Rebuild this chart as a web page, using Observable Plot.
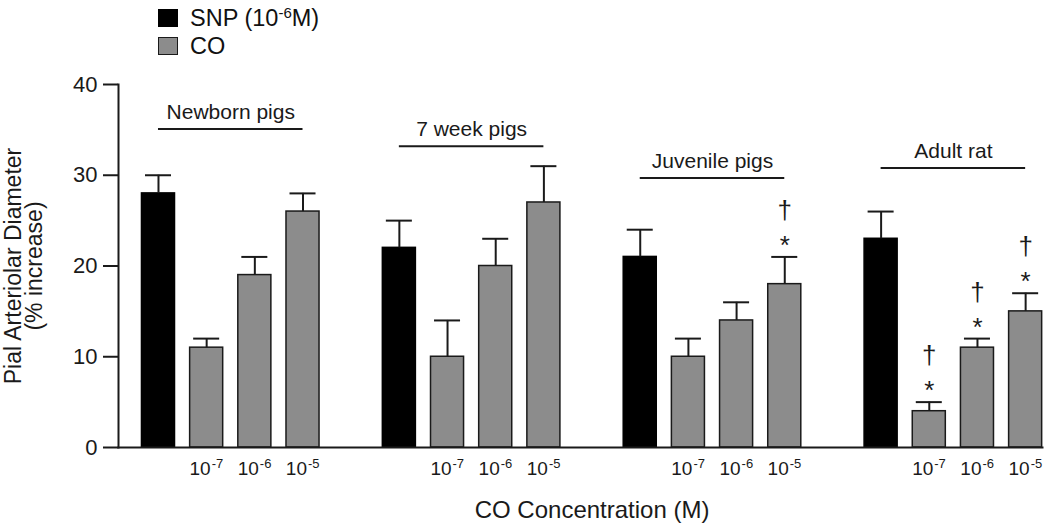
<!DOCTYPE html>
<html><head><meta charset="utf-8">
<script src="https://cdn.jsdelivr.net/npm/d3@7"></script>
<script src="https://cdn.jsdelivr.net/npm/@observablehq/plot@0.6"></script>
<style>
body{margin:0;background:#fff;font-family:"Liberation Sans",Arial,sans-serif;}
#wrap{position:relative;width:1050px;height:527px;overflow:hidden;}
#legend{position:absolute;left:158px;top:4px;font-size:23.5px;color:#111;}
.item{display:flex;align-items:center;height:28px;white-space:nowrap;}
.sw{width:20px;height:18px;margin-right:12px;box-sizing:border-box;}
.sup{font-size:15px;position:relative;top:-8px;}
</style></head><body>
<div id="wrap"><div id="chart"></div>
<div id="legend">
  <div class="item"><div class="sw" style="background:#000"></div><span>SNP (10<span class="sup">-6</span>M)</span></div>
  <div class="item"><div class="sw" style="background:#8c8c8c;border:1.5px solid #1a1a1a"></div><span>CO</span></div>
</div></div>
<script>
const groups = ["Newborn pigs", "7 week pigs", "Juvenile pigs", "Adult rat"];
const treatments = ["SNP", "CO", "CO", "CO"];
const coExponents = ["", "-7", "-6", "-5"];
const newbornMean = [28, 11, 19, 26];
const newbornErr = [2, 1, 2, 2];
const weekMean = [22, 10, 20, 27];
const weekErr = [3, 4, 3, 4];
const juvenileMean = [21, 10, 14, 18];
const juvenileErr = [3, 2, 2, 3];
const adultMean = [23, 4, 11, 15];
const adultErr = [3, 1, 1, 2];
const juvenileSig = [false, false, false, true];
const adultSig = [false, true, true, true];
const newbornSig = [false, false, false, false];
const weekSig = [false, false, false, false];
const bracketLevel = [35.1, 33.2, 29.7, 30.8];
const yTicks = [0, 10, 20, 30, 40];

const means = [newbornMean, weekMean, juvenileMean, adultMean];
const errs = [newbornErr, weekErr, juvenileErr, adultErr];
const sigs = [newbornSig, weekSig, juvenileSig, adultSig];
const perGroup = treatments.length + 1;

const rows = [];
groups.forEach((g, gi) => treatments.forEach((t, ci) => rows.push({
  group: g, treatment: t, exp: coExponents[ci], slot: gi * perGroup + ci,
  mean: means[gi][ci], top: means[gi][ci] + errs[gi][ci], sig: sigs[gi][ci]
})));
const coRows = rows.filter(d => d.treatment === "CO");
const sigRows = rows.filter(d => d.sig);
const brackets = groups.map((g, gi) => ({
  group: g, x1: gi * perGroup, x2: gi * perGroup + treatments.length - 1,
  mid: gi * perGroup + (treatments.length - 1) / 2, level: bracketLevel[gi]
}));
const lastSlot = d3.max(rows, d => d.slot);
const hw = 0.343, cw = 0.27;
const ink = "#1a1a1a";

const chart = Plot.plot({
  width: 1050, height: 527,
  marginTop: 84, marginBottom: 80, marginLeft: 118, marginRight: 8,
  style: {fontFamily: "'Liberation Sans', Arial, sans-serif", color: ink, background: "transparent"},
  x: {domain: [-0.83, lastSlot + 0.35], axis: null},
  y: {domain: [0, 40], axis: null},
  marks: [
    Plot.rectY(rows, {x1: d => d.slot - hw, x2: d => d.slot + hw, y1: 0, y2: "mean",
      fill: d => d.treatment === "SNP" ? "#000" : "#8c8c8c",
      stroke: d => d.treatment === "SNP" ? "#000" : ink, strokeWidth: 1.5}),
    Plot.ruleX(rows, {x: "slot", y1: "mean", y2: "top", stroke: ink, strokeWidth: 2}),
    Plot.ruleY(rows, {x1: d => d.slot - cw, x2: d => d.slot + cw, y: "top", stroke: ink, strokeWidth: 2}),
    Plot.text(sigRows, {x: "slot", y: "top", text: () => "*", lineAnchor: "bottom", dy: -3, fontSize: 26, fill: ink}),
    Plot.text(sigRows, {x: "slot", y: "top", text: () => "\u2020", lineAnchor: "bottom", dy: -38, fontSize: 26, fill: ink}),
    Plot.ruleY(brackets, {x1: "x1", x2: "x2", y: "level", stroke: ink, strokeWidth: 2}),
    Plot.text(brackets, {x: "mid", y: "level", text: "group", lineAnchor: "bottom", dy: -10, fontSize: 21, fill: ink}),
    Plot.frame({anchor: "left", stroke: ink, strokeWidth: 2}),
    Plot.frame({anchor: "bottom", stroke: ink, strokeWidth: 2}),
    Plot.axisY({ticks: yTicks, tickSize: 15, tickPadding: 6, fontSize: 22, label: null, stroke: ink, strokeWidth: 2}),
    Plot.text(coRows, {x: "slot", frameAnchor: "bottom", text: () => "10", textAnchor: "end", lineAnchor: "bottom", dx: 4, dy: 27, fontSize: 19, fill: ink}),
    Plot.text(coRows, {x: "slot", frameAnchor: "bottom", text: "exp", textAnchor: "start", lineAnchor: "bottom", dx: 5, dy: 20, fontSize: 13, fill: ink}),
    Plot.text(["CO Concentration (M)"], {x: () => lastSlot / 2, frameAnchor: "bottom", lineAnchor: "bottom", dy: 70, fontSize: 24, fill: ink}),
    Plot.text(["Pial Arteriolar Diameter\n(% increase)"], {frameAnchor: "left", rotate: -90, textAnchor: "middle", lineAnchor: "middle", lineHeight: 0.95, dx: -94, fontSize: 23, fill: ink})
  ]
});
document.getElementById("chart").appendChild(chart);
</script>
</body></html>
